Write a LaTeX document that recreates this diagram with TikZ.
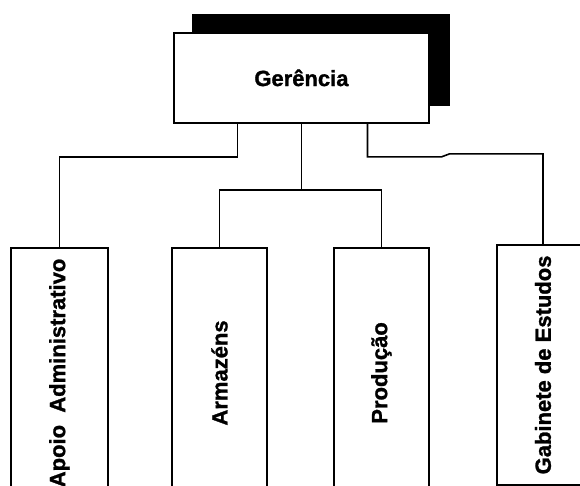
\documentclass[tikz,border=0pt]{standalone}
\usepackage{fontspec}
\setmainfont{Liberation Sans}[BoldFeatures={FakeBold=1.2}]
\begin{document}
\begin{tikzpicture}[x=1pt,y=-1pt,
  box/.style={draw=black, line width=1.9pt, fill=white, inner sep=0pt, anchor=north west,
              font=\bfseries\fontsize{22}{26}\selectfont},
  conn/.style={draw=black, line width=1.6pt}]
\clip (0,0) rectangle (580,486);
\fill[white] (0,0) rectangle (580,486);
% shadow of Gerencia
\fill[black] (192,14) rectangle (450,106);
\node[box, minimum width=255pt, minimum height=90pt] (ger) at (173,32) {Gerência};
% lower boxes
\node[box, minimum width=97pt, minimum height=250pt] (apoio) at (10,247) {\rotatebox{90}{Apoio\ \ Administrativo}};
\node[box, minimum width=95pt, minimum height=250pt] (arm) at (171,247) {\rotatebox{90}{Armazéns}};
\node[box, minimum width=95pt, minimum height=250pt] (prod) at (333,247) {\rotatebox{90}{Produção}};
\node[box, minimum width=92pt, minimum height=240pt] (gab) at (496,244) {\rotatebox{90}{Gabinete de Estudos}};
% connectors
\draw[conn] ([xshift=-64pt]ger.south) -- ++(0,33) -| (apoio.north);
\draw[conn] (ger.south) -- (ger.south |- 0,190) coordinate (hub);
\draw[conn] (hub) -| (arm.north);
\draw[conn] (hub) -| (prod.north);
\draw[conn] ([xshift=66pt]ger.south) -- ++(0,33) -- ++(74,0) -- ++(8,-3) -| (gab.north);
\end{tikzpicture}
\end{document}
